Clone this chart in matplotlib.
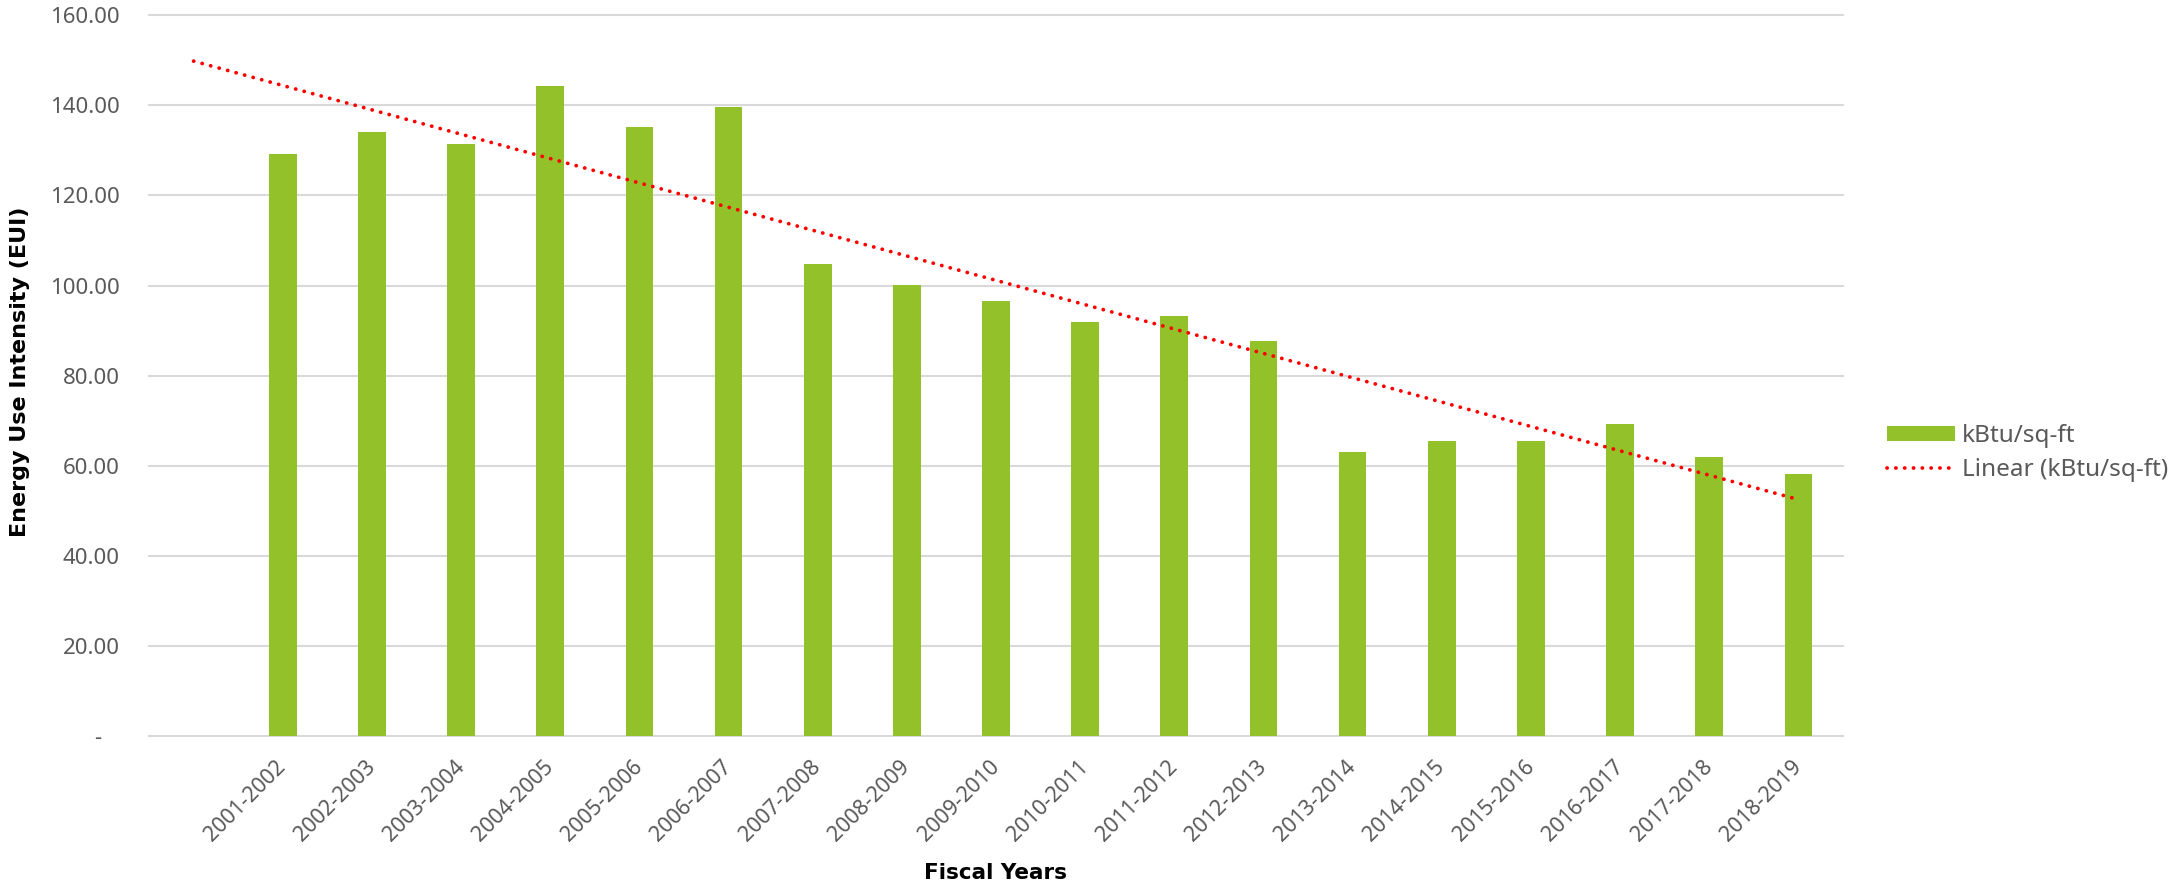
import numpy as np
import matplotlib
matplotlib.use("Agg")
import matplotlib.pyplot as plt
from matplotlib.patches import Patch
from matplotlib.lines import Line2D

# Fiscal years and energy use intensity (kBtu per square foot)
fiscal_years = [
    "2001-2002", "2002-2003", "2003-2004", "2004-2005", "2005-2006",
    "2006-2007", "2007-2008", "2008-2009", "2009-2010", "2010-2011",
    "2011-2012", "2012-2013", "2013-2014", "2014-2015", "2015-2016",
    "2016-2017", "2017-2018", "2018-2019",
]
eui = [
    129.1, 134.2, 131.5, 144.4, 135.3, 139.6, 104.8, 100.2, 96.6,
    91.9, 93.2, 87.8, 63.1, 65.5, 65.6, 69.3, 61.9, 58.2,
]
y_ticks = [0, 20, 40, 60, 80, 100, 120, 140, 160]
y_tick_labels = ["-   ", "20.00", "40.00", "60.00", "80.00",
                 "100.00", "120.00", "140.00", "160.00"]

bar_color = "#92c12a"
trend_color = "#ff0000"
grid_color = "#d9d9d9"
text_gray = "#595959"
font = "Noto Sans"
bold_font = "DejaVu Sans"
dotted = (0, (0.05, 2.3))

W, H = 2169, 885
fig = plt.figure(figsize=(W / 100, H / 100), dpi=100)
ax = fig.add_axes([149 / W, 1 - 736 / H, (1843 - 149) / W, (736 - 15.3) / H])

# Category slot 0 is an empty leading category; data occupy slots 1..18
x = np.arange(1, len(eui) + 1)
ax.bar(x, eui, width=0.31, color=bar_color, zorder=2)

# Linear trendline fitted over the data, extended across the empty slot
slope, intercept = np.polyfit(x, eui, 1)
x_trend = np.array([0, len(eui)])
ax.plot(x_trend, slope * x_trend + intercept, color=trend_color,
        linewidth=2.7, linestyle=dotted, dash_capstyle="round", zorder=3)

ax.set_xlim(-0.5, len(eui) + 0.5)
ax.set_ylim(0, 160)
ax.set_yticks(y_ticks)
ax.set_yticklabels(y_tick_labels, fontfamily=font, fontsize=16,
                   color=text_gray)
ax.set_xticks(x)
ax.set_xticklabels(fiscal_years, fontfamily=font, fontsize=15.5,
                   color=text_gray)
plt.setp(ax.get_xticklabels(), rotation=45, ha="right", va="center",
         rotation_mode="anchor")
ax.tick_params(axis="y", length=0, pad=21)
ax.tick_params(axis="x", length=0, pad=20)

ax.set_axisbelow(True)
ax.yaxis.grid(True, color=grid_color, linewidth=1.5)
ax.xaxis.grid(False)
for gl in ax.get_ygridlines():
    gl.set_clip_on(False)
for s in ax.spines.values():
    s.set_visible(False)

fig.text(20 / W, 1 - 372 / H, "Energy Use Intensity (EUI)",
         fontfamily=bold_font, fontweight="bold", fontsize=16,
         color="black", rotation=90, ha="center", va="center")

fig.text((149 + 1843) / 2 / W, 1 - 879 / H, "Fiscal Years",
         fontfamily=bold_font, fontweight="bold", fontsize=15.5,
         color="black", ha="center", va="baseline")

handles = [
    Patch(facecolor=bar_color, edgecolor="none"),
    Line2D([0], [0], color=trend_color, linewidth=2.7,
           linestyle=dotted, dash_capstyle="round"),
]
labels = ["kBtu/sq-ft", "Linear (kBtu/sq-ft)"]
leg = fig.legend(handles, labels, loc="center left",
                 bbox_to_anchor=(1887 / W, 1 - 453 / H), frameon=False,
                 borderpad=0, borderaxespad=0, handlelength=2.8,
                 handleheight=0.53, handletextpad=0.29, labelspacing=0.4,
                 prop={"family": font, "size": 17.5})
for t in leg.get_texts():
    t.set_color(text_gray)

fig.savefig("out.png", dpi=100, facecolor="white")
